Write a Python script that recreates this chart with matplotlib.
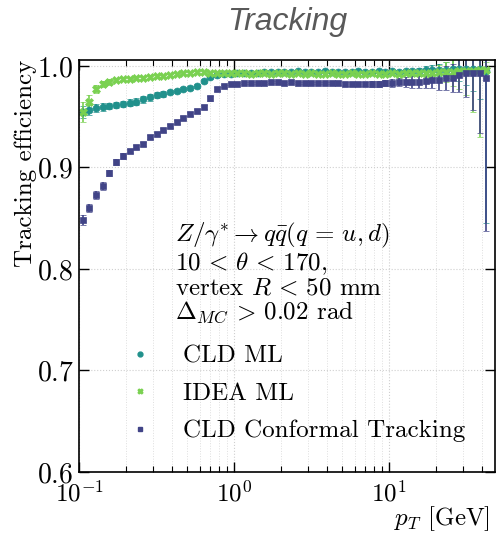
import numpy as np
import matplotlib
matplotlib.use("Agg")
import matplotlib.pyplot as plt

plt.rcParams['font.family'] = 'serif'
plt.rcParams['font.serif'] = ['cmr10']
plt.rcParams['mathtext.fontset'] = 'cm'
plt.rcParams['axes.unicode_minus'] = False
plt.rcParams['axes.formatter.use_mathtext'] = True

# pT bins (log spaced, 0.1 - ~45 GeV)
pt_edges = np.logspace(-1, 1.65, 62)
pt = np.sqrt(pt_edges[:-1] * pt_edges[1:])

# CLD ML efficiency per bin
cld_ml = [0.955, 0.957, 0.959, 0.960, 0.961, 0.962, 0.963, 0.964, 0.965, 0.967,
          0.969, 0.971, 0.972, 0.974, 0.975, 0.977, 0.978, 0.980, 0.985, 0.989,
          0.991, 0.992, 0.992, 0.993, 0.993, 0.993, 0.993, 0.994, 0.994, 0.994,
          0.994, 0.994, 0.995, 0.994, 0.994, 0.994, 0.995, 0.994, 0.994, 0.994,
          0.994, 0.995, 0.994, 0.994, 0.995, 0.994, 0.995, 0.994, 0.995, 0.995,
          0.995, 0.996, 0.996, 0.996, 0.996, 0.997, 0.997, 0.997, 0.997, 0.997,
          0.995]
cld_ml_err = [0.006, 0.005, 0.004, 0.004, 0.003, 0.003, 0.003, 0.003, 0.003, 0.003,
              0.003, 0.003, 0.003, 0.002, 0.002, 0.002, 0.002, 0.002, 0.002, 0.002,
              0.002, 0.001, 0.001, 0.001, 0.001, 0.001, 0.001, 0.001, 0.001, 0.001,
              0.001, 0.001, 0.001, 0.001, 0.001, 0.001, 0.001, 0.001, 0.001, 0.001,
              0.001, 0.001, 0.001, 0.001, 0.001, 0.002, 0.002, 0.002, 0.002, 0.002,
              0.003, 0.004, 0.005, 0.006, 0.008, 0.010, 0.012, 0.016, 0.022, 0.030,
              0.150]

# IDEA ML efficiency per bin
idea_ml = [0.955, 0.965, 0.977, 0.982, 0.984, 0.986, 0.987, 0.987, 0.988, 0.988,
           0.989, 0.990, 0.990, 0.991, 0.992, 0.993, 0.993, 0.994, 0.994, 0.993,
           0.993, 0.993, 0.993, 0.993, 0.993, 0.992, 0.993, 0.993, 0.992, 0.993,
           0.993, 0.992, 0.993, 0.992, 0.993, 0.992, 0.992, 0.993, 0.992, 0.992,
           0.993, 0.992, 0.992, 0.993, 0.992, 0.992, 0.993, 0.992, 0.993, 0.993,
           0.993, 0.993, 0.993, 0.994, 0.994, 0.994, 0.995, 0.995, 0.995, 0.996,
           0.996]
idea_ml_err = [0.010, 0.006, 0.004, 0.003, 0.003, 0.002, 0.002, 0.002, 0.002, 0.002,
               0.002, 0.002, 0.001, 0.001, 0.001, 0.001, 0.001, 0.001, 0.001, 0.001,
               0.001, 0.001, 0.001, 0.001, 0.001, 0.001, 0.001, 0.001, 0.001, 0.001,
               0.001, 0.001, 0.001, 0.001, 0.001, 0.001, 0.001, 0.001, 0.001, 0.001,
               0.001, 0.001, 0.001, 0.001, 0.002, 0.002, 0.002, 0.002, 0.002, 0.003,
               0.003, 0.004, 0.005, 0.007, 0.010, 0.014, 0.018, 0.024, 0.040, 0.066,
               0.008]

# CLD conformal tracking efficiency per bin
cld_conf = [0.848, 0.860, 0.873, 0.882, 0.895, 0.905, 0.911, 0.916, 0.920, 0.923,
            0.930, 0.933, 0.937, 0.941, 0.945, 0.949, 0.953, 0.956, 0.960, 0.968,
            0.977, 0.980, 0.982, 0.982, 0.983, 0.983, 0.983, 0.983, 0.984, 0.984,
            0.983, 0.984, 0.983, 0.983, 0.983, 0.983, 0.983, 0.983, 0.983, 0.982,
            0.982, 0.982, 0.982, 0.982, 0.982, 0.983, 0.983, 0.984, 0.984, 0.984,
            0.984, 0.985, 0.986, 0.986, 0.988, 0.988, 0.991, 0.993, 0.993, 0.993,
            0.988]
cld_conf_err = [0.005, 0.004, 0.004, 0.004, 0.003, 0.003, 0.003, 0.002, 0.002, 0.002,
                0.002, 0.002, 0.002, 0.002, 0.002, 0.002, 0.002, 0.002, 0.002, 0.002,
                0.002, 0.001, 0.001, 0.001, 0.001, 0.001, 0.001, 0.001, 0.001, 0.001,
                0.001, 0.001, 0.001, 0.001, 0.001, 0.001, 0.001, 0.001, 0.002, 0.002,
                0.002, 0.002, 0.002, 0.003, 0.003, 0.003, 0.004, 0.004, 0.005, 0.006,
                0.006, 0.007, 0.008, 0.010, 0.012, 0.014, 0.017, 0.024, 0.036, 0.059,
                0.151]

series = [
    ("CLD ML", cld_ml, cld_ml_err, "#21918c", "o", 5),
    ("IDEA ML", idea_ml, idea_ml_err, "#7ad151", "X", 5.5),
    ("CLD Conformal Tracking", cld_conf, cld_conf_err, "#414487", "s", 5),
]

fig = plt.figure(figsize=(4.98, 5.35), dpi=100)
ax = fig.add_axes([0.159, 0.118, 0.834, 0.770])

for label, vals, errs, col, mk, ms in series:
    ax.errorbar(pt, vals, yerr=errs, fmt=mk, color=col, ms=ms, capsize=2.5,
                elinewidth=1.2, capthick=1.0, mew=0.5)
    ax.plot([], [], mk, color=col, ms=3.5, label=label)

ax.set_xscale('log')
ax.set_xlim(0.1, 48)
ax.set_ylim(0.6, 1.006)
ax.set_yticks([0.6, 0.7, 0.8, 0.9, 1.0])
ax.grid(True, which='major', ls=':', color='#cfcfcf', lw=0.8)
ax.grid(True, which='minor', axis='x', ls=':', color='#dedede', lw=0.7)
ax.tick_params(which='both', direction='in', top=True, right=True)
ax.tick_params(axis='y', labelsize=20, pad=4)
ax.tick_params(axis='x', labelsize=18, pad=6)
ax.tick_params(which='major', length=7, width=1)
ax.tick_params(which='minor', length=4, width=0.8)
for sp in ax.spines.values():
    sp.set_linewidth(1.2)

ax.set_ylabel('Tracking efficiency', fontsize=18, loc='top', labelpad=0)
ax.set_xlabel('$p_T$ [GeV]', fontsize=18)
ax.xaxis.set_label_coords(0.99, -0.078)
ax.xaxis.label.set_horizontalalignment('right')

ax.text(0.23, 0.608,
        '$Z/\\gamma^{*} \\to q\\bar{q}(q \\,=\\, u, d)$\n'
        '$10 \\,<\\, \\theta \\,<\\, 170$,\n'
        'vertex $R \\,<\\, 50$ mm\n$\\Delta_{MC} \\,>\\, 0.02$ rad',
        transform=ax.transAxes, fontsize=18, va='top', ha='left',
        linespacing=1.0)

ax.legend(loc='center left', bbox_to_anchor=(0.048, 0.19), frameon=False,
          fontsize=18, labelspacing=0.6, handletextpad=0.95, handlelength=1.5,
          borderaxespad=0.5)

fig.text(0.577, 0.959, 'Tracking', family='Liberation Sans', style='italic',
         color='#595959', fontsize=23, ha='center', va='center')

fig.savefig('out.png', dpi=100)
